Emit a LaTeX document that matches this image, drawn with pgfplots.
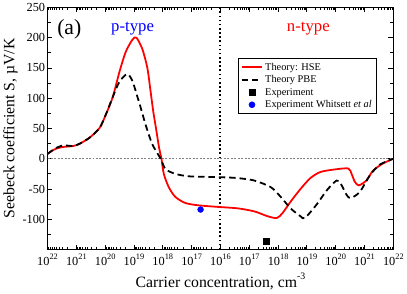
\documentclass[border=0pt]{standalone}
\usepackage{fontspec}
\setmainfont{Liberation Serif}
\usepackage{pgfplots}
\pgfplotsset{compat=1.18}
\pgfplotsset{
  lineleg/.style={legend image code/.code={\draw[##1] (0bp,0bp) -- (21bp,0bp);}},
  markleg/.style={legend image code/.code={\draw[##1] plot coordinates {(10.5bp,0bp)};}},
}
\newcommand{\tp}[1]{10\raisebox{0.5em}{\fontsize{8.5}{8.5}\selectfont #1}}
\begin{document}
\begin{tikzpicture}
\begin{axis}[
  scale only axis, width=350bp, height=245bp,
  xmin=0, xmax=12, ymin=-150, ymax=250,
  xtick={0,1,2,3,4,5,6,7,8,9,10,11,12},
  xticklabels={\tp{22},\tp{21},\tp{20},\tp{19},\tp{18},\tp{17},\tp{16},\tp{17},\tp{18},\tp{19},\tp{20},\tp{21},\tp{22}},
  minor xtick={0.046,0.097,0.155,0.222,0.301,0.398,0.523,0.699,
               1.046,1.097,1.155,1.222,1.301,1.398,1.523,1.699,
               2.046,2.097,2.155,2.222,2.301,2.398,2.523,2.699,
               3.046,3.097,3.155,3.222,3.301,3.398,3.523,3.699,
               4.046,4.097,4.155,4.222,4.301,4.398,4.523,4.699,
               5.046,5.097,5.155,5.222,5.301,5.398,5.523,5.699,
               6.301,6.477,6.602,6.699,6.778,6.845,6.903,6.954,
               7.301,7.477,7.602,7.699,7.778,7.845,7.903,7.954,
               8.301,8.477,8.602,8.699,8.778,8.845,8.903,8.954,
               9.301,9.477,9.602,9.699,9.778,9.845,9.903,9.954,
               10.301,10.477,10.602,10.699,10.778,10.845,10.903,10.954,
               11.301,11.477,11.602,11.699,11.778,11.845,11.903,11.954},
  ytick={-100,-50,0,50,100,150,200,250},
  minor ytick={-125,-75,-25,25,75,125,175,225},
  tick align=inside,
  major tick length=5bp, minor tick length=3bp,
  axis line style={line width=1.3bp},
  every tick/.style={black, line width=0.9bp},
  /pgf/number format/assume math mode=true,
  ticklabel style={font=\rmfamily\fontsize{12.5}{12.5}\selectfont},
  yticklabel style={xshift=1bp},
  xticklabel style={yshift=-1bp},
  xlabel={Carrier concentration, cm\raisebox{0.55em}{\fontsize{10}{10}\selectfont -3}},
  ylabel={Seebeck coefficient S, µV/K},
  label style={font=\rmfamily\fontsize{16}{16}\selectfont},
  xlabel style={yshift=0bp},
  ylabel style={yshift=-2bp},
  legend cell align=left,
  legend style={at={(rel axis cs:0.951,0.79)}, anchor=north east,
    font=\rmfamily\fontsize{10.5}{11}\selectfont, draw=black, line width=0.6bp,
    inner sep=2.5bp, row sep=0bp},
]
\addplot[forget plot, gray, line width=0.6bp, dash pattern=on 2bp off 1.5bp] coordinates {(0,0) (12,0)};
\addplot[forget plot, black, line width=2bp, dash pattern=on 1.6bp off 2.6bp] coordinates {(6,-150) (6,250)};
\addplot[red, line width=1.8bp, smooth, tension=0.45, lineleg] coordinates {
(0,8) (0.264,16) (0.549,19.5) (0.891,21) (1.121,25) (1.464,35) (1.807,51) (2.023,73) (2.263,102) (2.492,143) (2.708,176) (2.948,197) (3.085,200) (3.291,181) (3.463,150) (3.565,115) (3.668,78) (3.771,48) (3.874,17) (3.953,0) (4.034,-25) (4.206,-47) (4.433,-63) (4.775,-73) (5.235,-77) (6.034,-80) (6.606,-82) (7.175,-87) (7.635,-95) (7.953,-98) (8.149,-90) (8.433,-71) (8.776,-50) (9.119,-32) (9.462,-22) (9.918,-18) (10.432,-16) (10.549,-25) (10.662,-38) (10.799,-44) (11.063,-36) (11.289,-20) (11.632,-8) (12,0)
};
\addlegendentry{Theory: HSE}
\addplot[black, line width=1.8bp, dash pattern=on 6.5bp off 4bp, smooth, tension=0.45, lineleg] coordinates {
(0,8) (0.264,17) (0.549,22) (0.891,21) (1.121,25) (1.464,35) (1.807,51) (2.023,73) (2.263,102) (2.492,127) (2.767,140) (2.948,128) (3.12,102) (3.21,88) (3.404,56) (3.634,24) (3.925,0) (4.09,-17) (4.433,-25) (4.892,-29) (5.578,-30) (6.263,-31) (6.606,-32) (7.175,-36) (7.748,-47) (8.09,-63) (8.433,-82) (8.776,-95) (8.93,-98) (9.348,-75) (9.692,-52) (10.03,-36) (10.17,-41) (10.38,-60) (10.52,-65) (10.833,-55) (11.176,-28) (11.519,-10) (12,0)
};
\addlegendentry{Theory PBE}
\addplot[only marks, mark=square*, mark size=3bp, black, markleg] coordinates {(7.58,-136)};
\addlegendentry{Experiment}
\addplot[only marks, mark=*, mark size=3bp, blue, markleg] coordinates {(5.31,-84)};
\addlegendentry{Experiment Whitsett \textit{et al}}
\node[blue, font=\rmfamily\fontsize{17}{17}\selectfont, anchor=base] at (axis cs:2.95,211) {p-type};
\node[red, font=\rmfamily\fontsize{17}{17}\selectfont, anchor=base] at (axis cs:9.05,211) {n-type};
\node[anchor=base west, font=\rmfamily\fontsize{22}{22}\selectfont, inner sep=0pt] at (axis cs:0.33,205) {(a)};
\end{axis}
\end{tikzpicture}
\end{document}
